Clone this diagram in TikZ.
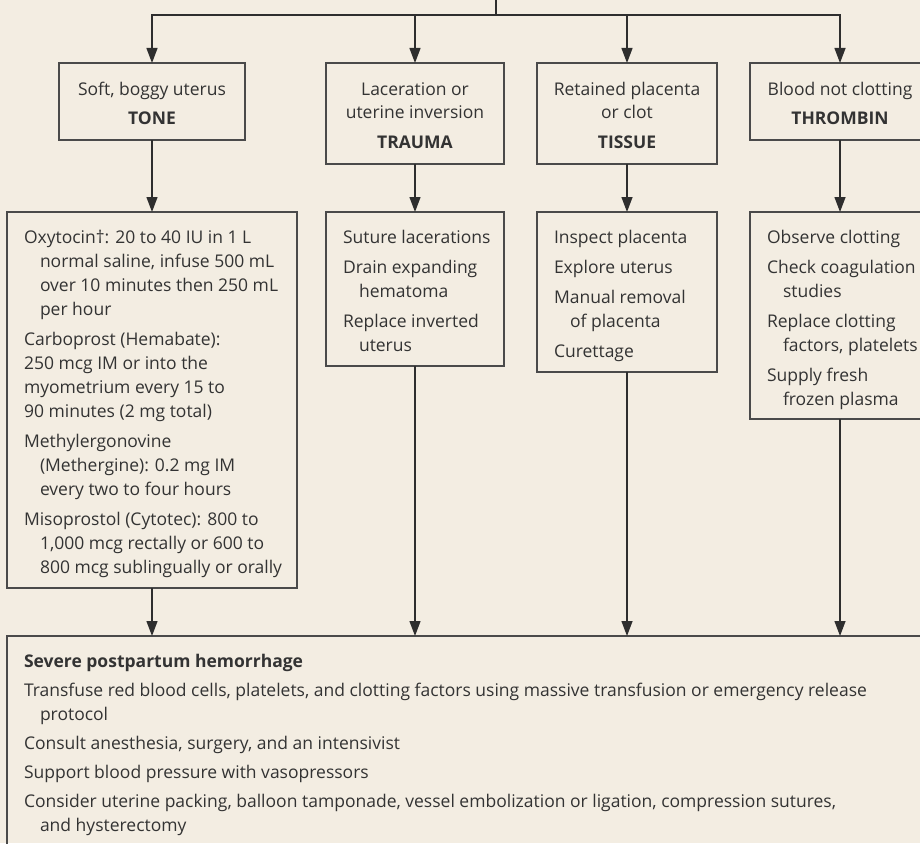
\documentclass[tikz,border=0pt]{standalone}
\usepackage{fontspec}
\setmainfont{Open Sans}
\usetikzlibrary{arrows.meta}
\definecolor{bg}{HTML}{F3EDE2}
\definecolor{ln}{HTML}{2E2E2E}
\definecolor{bx}{HTML}{4A4A4A}
\definecolor{tx}{HTML}{333333}
\newlength{\itmskip}
\setlength{\itmskip}{6pt}
% first item (no space above), later items (space above), hanging indent 16pt
\newcommand{\fitm}{\par\hangindent=16pt\hangafter=1\relax\noindent}
\newcommand{\itm}{\par\vspace{\itmskip}\hangindent=16pt\hangafter=1\relax\noindent}
\newcommand{\plainitm}{\par\vspace{\itmskip}\hangindent=0pt\relax\noindent}
\newcommand{\dettext}[2]{\begin{minipage}[t]{#1}\raggedright\setlength{\parskip}{0pt}#2\end{minipage}}
\newcommand{\ttltext}[1]{\begin{minipage}[t]{200pt}\centering #1\end{minipage}}
\tikzset{
  box/.style={draw=bx, line width=1.6pt, fill=none, inner sep=0pt, outer sep=0pt, anchor=north west},
  txt/.style={inner sep=0pt, outer sep=0pt, text=tx, font=\fontsize{17.5}{24}\selectfont},
  arr/.style={draw=ln, line width=1.3pt, -{Triangle[length=15pt,width=11pt]}},
  plain/.style={draw=ln, line width=1.3pt}
}
\begin{document}
\begin{tikzpicture}[x=1pt,y=-1pt]
\clip (0,0) rectangle (920,843);
\fill[bg] (0,0) rectangle (920,843);
% title boxes
\node[box, minimum width=186pt, minimum height=77pt] (tone) at (59,63) {};
\node[box, minimum width=178pt, minimum height=101pt] (trauma) at (326,63) {};
\node[box, minimum width=180pt, minimum height=101pt] (tissue) at (537,63) {};
\node[box, minimum width=180pt, minimum height=77pt] (throm) at (750,63) {};
% detail boxes
\node[box, minimum width=290pt, minimum height=376pt] (tonedet) at (7,212) {};
\node[box, minimum width=178pt, minimum height=154pt] (traumadet) at (326,212) {};
\node[box, minimum width=180pt, minimum height=160pt] (tissuedet) at (537,212) {};
\node[box, minimum width=200pt, minimum height=207pt] (thromdet) at (750,212) {};
% final box
\node[box, minimum width=960pt, minimum height=260pt] (final) at (7,636) {};
% title texts
\node[txt, anchor=base] (tonet) at (152,95) {\ttltext{Soft, boggy uterus\\[5pt]\textbf{TONE}}};
\node[txt, anchor=base] (traumat) at (415,95) {\ttltext{Laceration or\\uterine inversion\\[5pt]\textbf{TRAUMA}}};
\node[txt, anchor=base] (tissuet) at (627,95) {\ttltext{Retained placenta\\or clot\\[5pt]\textbf{TISSUE}}};
\node[txt, anchor=base] (thromt) at (840,95) {\ttltext{Blood not clotting\\[5pt]\textbf{THROMBIN}}};
% detail texts
\node[txt, anchor=base west] (tonedt) at (24,243) {\dettext{300pt}{%
\fitm Oxytocin†: 20 to 40 IU in 1 L\newline normal saline, infuse 500 mL\newline over 10 minutes then 250 mL\newline per hour
\plainitm Carboprost (Hemabate):\newline 250 mcg IM or into the\newline myometrium every 15 to\newline 90 minutes (2 mg total)
\itm Methylergonovine\newline (Methergine): 0.2 mg IM\newline every two to four hours
\itm Misoprostol (Cytotec): 800 to\newline 1,000 mcg rectally or 600 to\newline 800 mcg sublingually or orally}};
\node[txt, anchor=base west] (traumadt) at (343,243) {\dettext{200pt}{%
\fitm Suture lacerations
\itm Drain expanding\newline hematoma
\itm Replace inverted\newline uterus}};
\node[txt, anchor=base west] (tissuedt) at (554,243) {\dettext{200pt}{%
\fitm Inspect placenta
\itm Explore uterus
\itm Manual removal\newline of placenta
\itm Curettage}};
\node[txt, anchor=base west] (thromdt) at (767,243) {\dettext{200pt}{%
\fitm Observe clotting
\itm Check coagulation\newline studies
\itm Replace clotting\newline factors, platelets
\itm Supply fresh\newline frozen plasma}};
\node[txt, anchor=base west] (finalt) at (24,667) {\dettext{900pt}{\setlength{\itmskip}{5pt}%
\fitm\textbf{Severe postpartum hemorrhage}
\itm Transfuse red blood cells, platelets, and clotting factors using massive transfusion or emergency release\newline protocol
\itm Consult anesthesia, surgery, and an intensivist
\itm Support blood pressure with vasopressors
\itm Consider uterine packing, balloon tamponade, vessel embolization or ligation, compression sutures,\newline and hysterectomy}};
% connectors
\coordinate (top) at (496,-5);
\coordinate (j) at (496,15);
\draw[plain] (top) -- (j);
\draw[arr] (j) -| (tone.north);
\draw[arr] (j) -| (trauma.north);
\draw[arr] (j) -| (tissue.north);
\draw[arr] (j) -| (throm.north);
\draw[arr] (tone.south) -- (tonedet.north);
\draw[arr] (trauma.south) -- (traumadet.north);
\draw[arr] (tissue.south) -- (tissuedet.north);
\draw[arr] (throm.south) -- (throm.south |- thromdet.north);
\draw[arr] (tonedet.south) -- (tonedet.south |- final.north);
\draw[arr] (traumadet.south) -- (traumadet.south |- final.north);
\draw[arr] (tissuedet.south) -- (tissuedet.south |- final.north);
\draw[arr] (throm.south |- thromdet.south) -- (throm.south |- final.north);
\end{tikzpicture}
\end{document}
